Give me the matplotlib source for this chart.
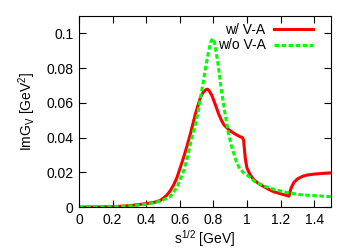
import numpy as np
import matplotlib.pyplot as plt

plt.rcParams['font.family'] = ['Liberation Sans', 'DejaVu Sans']
plt.rcParams['mathtext.fontset'] = 'custom'
plt.rcParams['mathtext.rm'] = 'Liberation Sans'
plt.rcParams['mathtext.it'] = 'Liberation Sans'

# with V-A mixing
s_va = [0.0, 0.2, 0.3, 0.4, 0.45, 0.484, 0.52, 0.544, 0.565, 0.584, 0.604, 0.624,
        0.644, 0.664, 0.694, 0.71, 0.724, 0.74, 0.755, 0.765, 0.775, 0.79, 0.804,
        0.817, 0.83, 0.848, 0.862, 0.879, 0.895, 0.91, 0.926, 0.942, 0.958, 0.973,
        0.98, 0.985, 0.99, 1.0, 1.02, 1.04, 1.07, 1.1, 1.13, 1.16, 1.2, 1.25,
        1.255, 1.265, 1.28, 1.3, 1.33, 1.36, 1.4, 1.45, 1.5]
img_va = [0.0, 0.0002, 0.0008, 0.002, 0.0028, 0.0038, 0.0065, 0.0095, 0.013, 0.0172,
          0.023, 0.029, 0.0355, 0.0425, 0.054, 0.059, 0.0634, 0.0662, 0.0676, 0.0679,
          0.067, 0.0645, 0.061, 0.0576, 0.054, 0.050, 0.0475, 0.0458, 0.0443, 0.0433,
          0.0423, 0.0414, 0.0406, 0.040, 0.0385, 0.033, 0.028, 0.0225, 0.0185, 0.0158,
          0.0135, 0.0118, 0.0102, 0.0088, 0.0077, 0.0063, 0.0085, 0.0115, 0.0143,
          0.0162, 0.0177, 0.0185, 0.019, 0.0194, 0.0197]

# without V-A mixing
s_no = [0.0, 0.2, 0.3, 0.4, 0.45, 0.5, 0.544, 0.584, 0.624, 0.644, 0.664, 0.694,
        0.71, 0.724, 0.74, 0.754, 0.77, 0.784, 0.795, 0.805, 0.815, 0.827, 0.848,
        0.869, 0.89, 0.905, 0.921, 0.937, 0.952, 0.968, 0.983, 1.0, 1.046, 1.1,
        1.16, 1.24, 1.32, 1.4, 1.5]
img_no = [0.0, 0.0002, 0.0006, 0.0016, 0.0025, 0.004, 0.006, 0.0115, 0.021, 0.028,
          0.0367, 0.048, 0.055, 0.0634, 0.072, 0.0806, 0.089, 0.095, 0.0971, 0.0955,
          0.09, 0.083, 0.067, 0.054, 0.0425, 0.036, 0.031, 0.026, 0.023, 0.021,
          0.0195, 0.0185, 0.0148, 0.0122, 0.0102, 0.0083, 0.0071, 0.0066, 0.006]

xticks = [0, 0.2, 0.4, 0.6, 0.8, 1, 1.2, 1.4]
yticks = [0, 0.02, 0.04, 0.06, 0.08, 0.1]

fig = plt.figure(figsize=(3.54, 2.48), dpi=100)
ax = fig.add_axes([0.223, 0.165, 0.712, 0.77])

ax.plot(s_va, img_va, color='#ff0000', lw=2.2, label='w/ V-A')
ax.plot(s_no, img_no, color='#00ff00', lw=2.2, ls=(0, (1.5, 0.8)), label='w/o V-A')

ax.set_xlim(0, 1.5)
ax.set_ylim(0, 0.11)
ax.set_xticks(xticks)
ax.set_xticklabels([f'{t:g}' for t in xticks])
ax.set_yticks(yticks)
ax.set_yticklabels([f'{t:g}' for t in yticks])
ax.tick_params(direction='in', top=True, right=True, labelsize=10, length=5, pad=4)

ax.set_xlabel('s$^{1/2}$ [GeV]', fontsize=10, labelpad=1)
ax.set_ylabel('ImG$_\\mathrm{V}$ [GeV$^2$]', fontsize=10, labelpad=6)

ax.legend(loc='upper right', bbox_to_anchor=(0.955, 1.0), frameon=False,
          markerfirst=False, fontsize=10, handlelength=2.8, borderaxespad=0.2,
          labelspacing=0.1, handletextpad=0.6, borderpad=0.3)

fig.savefig('out.png', dpi=100)
